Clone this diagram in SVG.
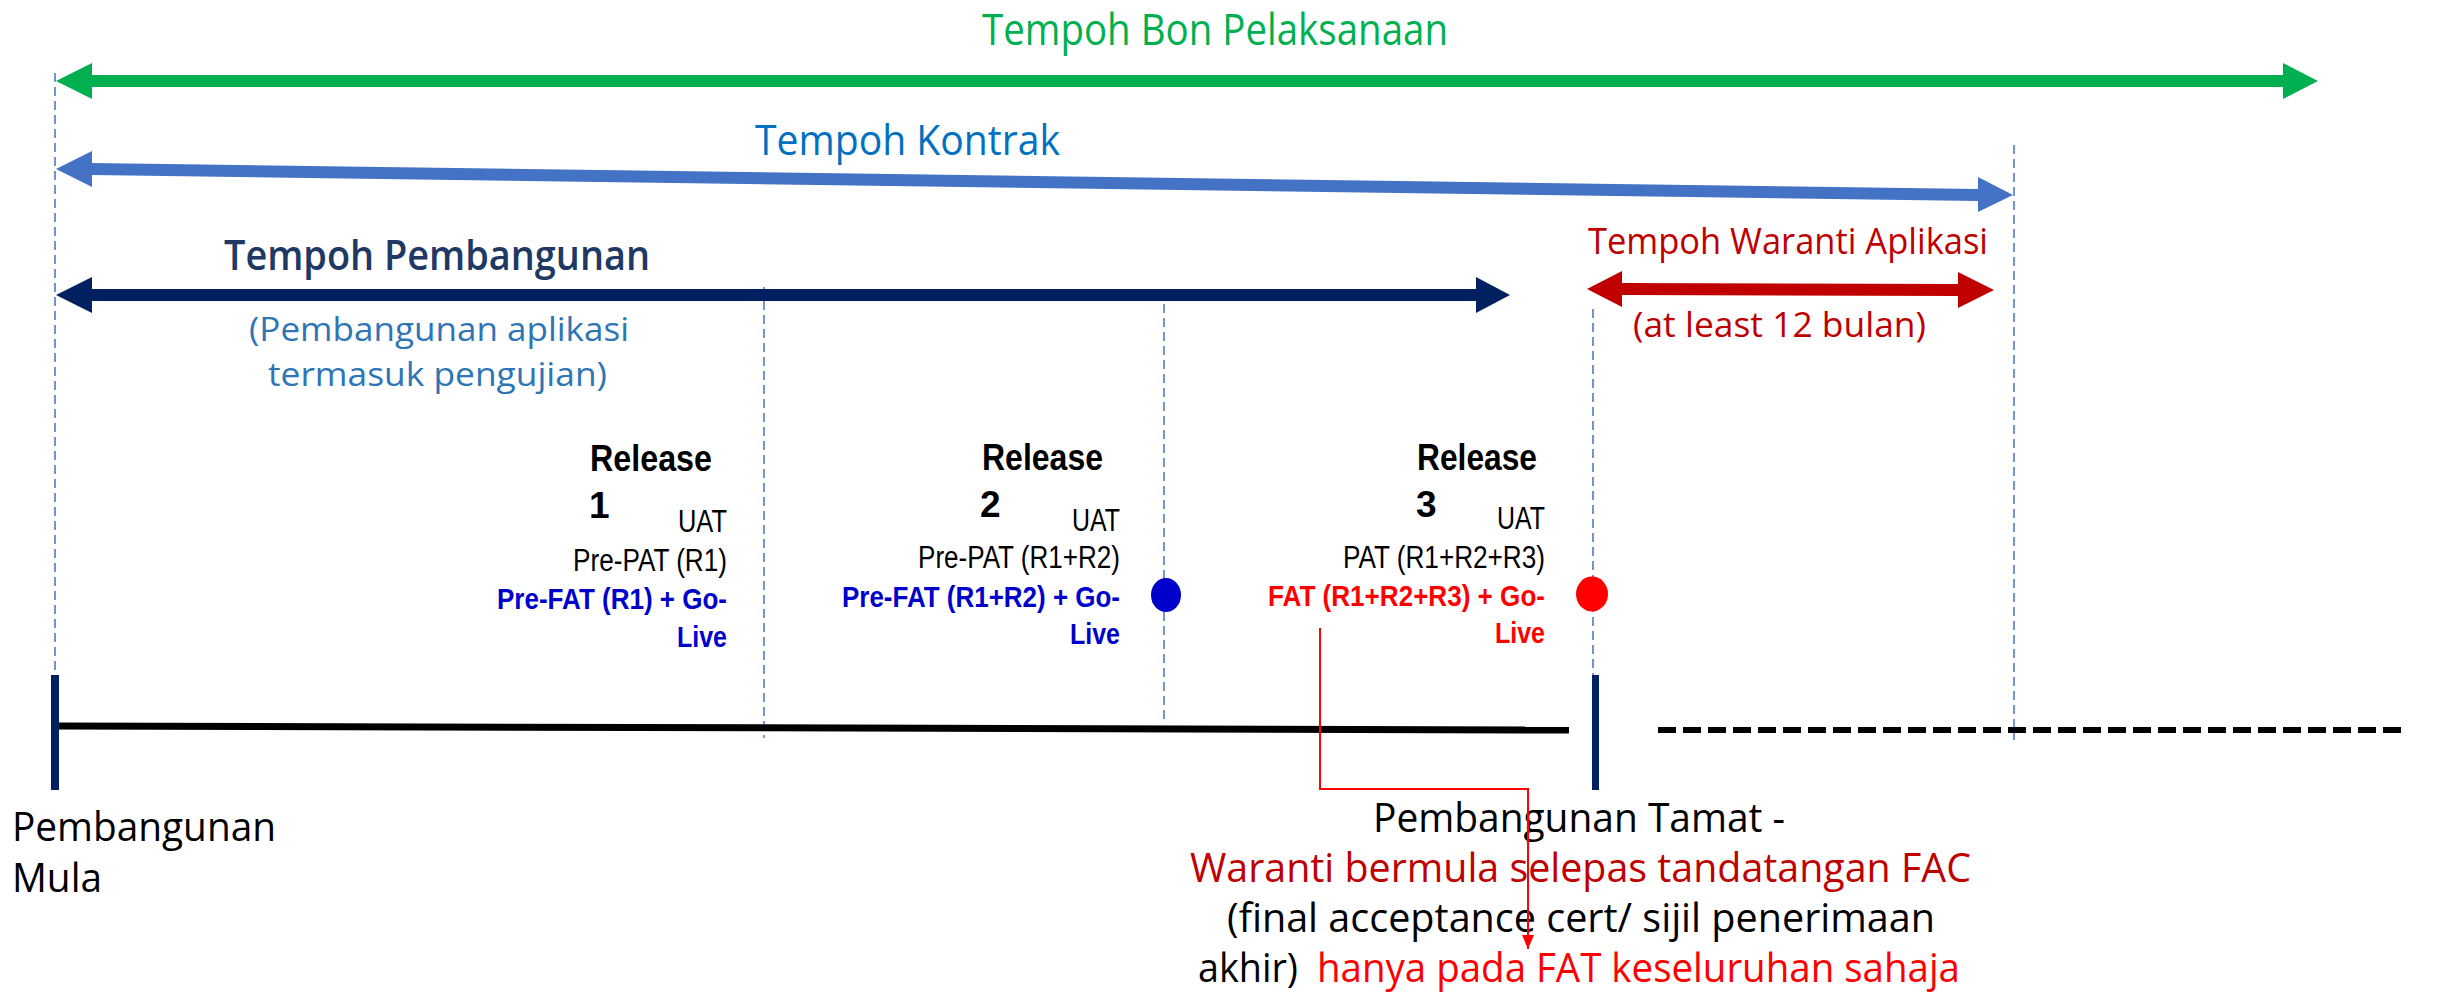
<svg xmlns="http://www.w3.org/2000/svg" width="2443" height="993" viewBox="0 0 2443 993">
<defs>
<style>
.seg{font-family:"Open Sans","Noto Sans","DejaVu Sans",sans-serif;}
.ar{font-family:"Liberation Sans",Arial,sans-serif;}
.rel{font-weight:700;font-size:37px;fill:#000;}
.reg{font-size:31px;fill:#000;}
.bb{font-weight:700;font-size:30px;fill:#0000CC;}
.rb{font-weight:700;font-size:30px;fill:#FF0000;}
.guide{stroke:#4472C4;stroke-width:1.5;stroke-dasharray:9 5;fill:none;}
.bot{font-size:40px;}
</style>
<marker id="redHead" markerUnits="userSpaceOnUse" markerWidth="16" markerHeight="16" refX="14" refY="6" orient="auto">
<path d="M0,0 L14,6 L0,12 Z" fill="#FF0000"/>
</marker>
</defs>
<rect width="2443" height="993" fill="#FFFFFF"/>

<g id="guides">
<line class="guide" x1="55" y1="73" x2="55" y2="675"/>
<line class="guide" x1="764" y1="287" x2="764" y2="738"/>
<line class="guide" x1="1164" y1="290" x2="1164" y2="723"/>
<line class="guide" x1="1593" y1="309" x2="1593" y2="675"/>
<line class="guide" x1="2014" y1="145" x2="2014" y2="740"/>
</g>

<g id="spans">
<polygon id="arrow-bon" fill="#00B050" points="56,81 92,63 92,75 2283,75 2283,63 2318,81 2283,99 2283,87 92,87 92,99"/>
<polygon id="arrow-kontrak" fill="#4472C4" points="56,169 92,151 92,163 1978,189 1978,177 2013,195 1978,212 1978,201 92,175 92,187"/>
<polygon id="arrow-pembangunan" fill="#002060" points="56,295 92,277 92,289 1476,289 1476,277 1510,295 1476,313 1476,301 92,301 92,313"/>
<polygon id="arrow-waranti" fill="#C00000" points="1587,289 1622,271 1622,283 1958,284 1958,272 1994,290 1958,308 1958,296 1622,295 1622,307"/>
</g>

<g id="timeline">
<line x1="58" y1="726" x2="1569" y2="730" stroke="#000" stroke-width="7"/>
<line x1="1658" y1="730" x2="2407" y2="730" stroke="#000" stroke-width="6" stroke-dasharray="18 7"/>
<rect x="51" y="675" width="8" height="115" fill="#002060"/>
<rect x="1592" y="675" width="7" height="115" fill="#002060"/>
</g>

<g id="label-bon">
<text class="seg" x="982" y="45" font-size="43" fill="#00B050" textLength="466" lengthAdjust="spacingAndGlyphs">Tempoh Bon Pelaksanaan</text>
</g>
<g id="label-kontrak">
<text class="seg" x="755" y="155" font-size="42" fill="#0070C0" textLength="305" lengthAdjust="spacingAndGlyphs">Tempoh Kontrak</text>
</g>
<g id="label-pembangunan">
<text class="seg" x="224" y="270" font-size="41" font-weight="600" fill="#203864" textLength="426" lengthAdjust="spacingAndGlyphs">Tempoh Pembangunan</text>
<text class="seg" x="249" y="341" font-size="33" fill="#2E75B6" textLength="380" lengthAdjust="spacingAndGlyphs">(Pembangunan aplikasi</text>
<text class="seg" x="268" y="386" font-size="33" fill="#2E75B6" textLength="339" lengthAdjust="spacingAndGlyphs">termasuk pengujian)</text>
</g>
<g id="label-waranti">
<text class="seg" x="1588" y="254" font-size="37" fill="#C00000" textLength="400" lengthAdjust="spacingAndGlyphs">Tempoh Waranti Aplikasi</text>
<text class="seg" x="1633" y="337" font-size="34" fill="#C00000" textLength="293" lengthAdjust="spacingAndGlyphs">(at least 12 bulan)</text>
</g>

<g id="release-1">
<text class="ar rel" x="590" y="471" textLength="122" lengthAdjust="spacingAndGlyphs">Release</text>
<text class="ar rel" x="589" y="518">1</text>
<text class="ar reg" x="678" y="532" textLength="49" lengthAdjust="spacingAndGlyphs">UAT</text>
<text class="ar reg" x="573" y="571" textLength="154" lengthAdjust="spacingAndGlyphs">Pre-PAT (R1)</text>
<text class="ar bb" x="497" y="609" textLength="230" lengthAdjust="spacingAndGlyphs">Pre-FAT (R1) + Go-</text>
<text class="ar bb" x="677" y="647" textLength="50" lengthAdjust="spacingAndGlyphs">Live</text>
</g>

<g id="release-2">
<text class="ar rel" x="982" y="470" textLength="121" lengthAdjust="spacingAndGlyphs">Release</text>
<text class="ar rel" x="980" y="517">2</text>
<text class="ar reg" x="1072" y="531" textLength="48" lengthAdjust="spacingAndGlyphs">UAT</text>
<text class="ar reg" x="918" y="568" textLength="202" lengthAdjust="spacingAndGlyphs">Pre-PAT (R1+R2)</text>
<text class="ar bb" x="842" y="607" textLength="278" lengthAdjust="spacingAndGlyphs">Pre-FAT (R1+R2) + Go-</text>
<text class="ar bb" x="1070" y="644" textLength="50" lengthAdjust="spacingAndGlyphs">Live</text>
<ellipse cx="1166" cy="595" rx="15" ry="17" fill="#0000CC"/>
</g>

<g id="release-3">
<text class="ar rel" x="1417" y="470" textLength="120" lengthAdjust="spacingAndGlyphs">Release</text>
<text class="ar rel" x="1416" y="517">3</text>
<text class="ar reg" x="1497" y="529" textLength="48" lengthAdjust="spacingAndGlyphs">UAT</text>
<text class="ar reg" x="1343" y="568" textLength="202" lengthAdjust="spacingAndGlyphs">PAT (R1+R2+R3)</text>
<text class="ar rb" x="1268" y="606" textLength="277" lengthAdjust="spacingAndGlyphs">FAT (R1+R2+R3) + Go-</text>
<text class="ar rb" x="1495" y="643" textLength="50" lengthAdjust="spacingAndGlyphs">Live</text>
<ellipse cx="1592" cy="594" rx="16" ry="17.5" fill="#FF0000"/>
</g>

<g id="label-mula">
<text class="seg bot" x="12" y="841" fill="#000" textLength="264" lengthAdjust="spacingAndGlyphs">Pembangunan</text>
<text class="seg bot" x="12" y="892" fill="#000" textLength="90" lengthAdjust="spacingAndGlyphs">Mula</text>
</g>

<g id="label-tamat">
<text class="seg bot" x="1373" y="832" fill="#000" textLength="412" lengthAdjust="spacingAndGlyphs">Pembangunan Tamat -</text>
<text class="seg bot" x="1190" y="882" fill="#C00000" textLength="781" lengthAdjust="spacingAndGlyphs">Waranti bermula selepas tandatangan FAC</text>
<text class="seg bot" x="1227" y="932" fill="#000" textLength="708" lengthAdjust="spacingAndGlyphs">(final acceptance cert/ sijil penerimaan</text>
<text class="seg bot" x="1198" y="982" fill="#000" textLength="100" lengthAdjust="spacingAndGlyphs">akhir)</text>
<text class="seg bot" x="1317" y="982" fill="#FF0000" textLength="643" lengthAdjust="spacingAndGlyphs">hanya pada FAT keseluruhan sahaja</text>
</g>

<g id="connectors">
<path d="M1320,628 V789 H1528 V949" fill="none" stroke="#FF0000" stroke-width="2" marker-end="url(#redHead)"/>
</g>
</svg>
